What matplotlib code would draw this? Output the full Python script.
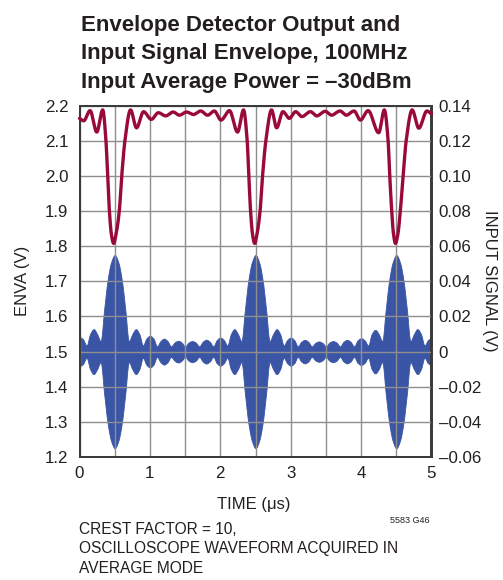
import numpy as np
import matplotlib
matplotlib.use("Agg")
import matplotlib.pyplot as plt

# ---------------- data ----------------
# Envelope detector output (left axis, V)
red_t = [0.00, 0.06, 0.15, 0.245, 0.33, 0.376, 0.40, 0.425, 0.452, 0.485, 0.52, 0.565, 0.60, 0.645,
         0.725, 0.81, 0.91, 1.02, 1.12, 1.225, 1.33, 1.42, 1.52, 1.62, 1.72, 1.82, 1.915, 2.01,
         2.13, 2.245, 2.33, 2.382, 2.405, 2.43, 2.457, 2.487, 2.522, 2.565, 2.60, 2.647,
         2.728, 2.80, 2.89, 2.98, 3.07, 3.16, 3.28, 3.37, 3.49, 3.58, 3.70, 3.79, 3.90, 3.99,
         4.10, 4.25, 4.33, 4.384, 4.407, 4.435, 4.46, 4.488, 4.523, 4.557, 4.597, 4.64,
         4.725, 4.82, 4.935, 5.00]
red_v = [2.164, 2.157, 2.186, 2.125, 2.188, 2.10, 2.00, 1.90, 1.835, 1.808, 1.835, 1.90, 2.00, 2.10,
         2.188, 2.137, 2.183, 2.161, 2.180, 2.171, 2.182, 2.173, 2.182, 2.175, 2.185, 2.173, 2.185, 2.159,
         2.186, 2.125, 2.188, 2.10, 2.00, 1.90, 1.835, 1.808, 1.835, 1.90, 2.00, 2.10,
         2.188, 2.137, 2.183, 2.164, 2.183, 2.169, 2.183, 2.171, 2.184, 2.173, 2.185, 2.173, 2.185, 2.159,
         2.186, 2.123, 2.188, 2.10, 2.00, 1.90, 1.835, 1.808, 1.835, 1.90, 2.00, 2.10,
         2.188, 2.136, 2.185, 2.176]

# Input signal envelope amplitude (right axis, V), sampled every 0.05 us
sig_t = [round(0.05 * i, 2) for i in range(101)]
sig_amp = [0.0085, 0.007, 0.0035, 0.010, 0.0128, 0.010, 0.006, 0.024, 0.041, 0.051,
           0.055, 0.051, 0.041, 0.024, 0.006, 0.010, 0.0128, 0.010, 0.0035, 0.0075,
           0.009, 0.0075, 0.003, 0.006, 0.0074, 0.006, 0.003, 0.0052, 0.0062, 0.0052,
           0.003, 0.0052, 0.006, 0.0052, 0.003, 0.0056, 0.0068, 0.0056, 0.003, 0.0066,
           0.008, 0.0066, 0.0035, 0.010, 0.0128, 0.010, 0.006, 0.024, 0.041, 0.051,
           0.055, 0.051, 0.041, 0.024, 0.006, 0.010, 0.0128, 0.010, 0.0035, 0.0066,
           0.008, 0.0066, 0.003, 0.0056, 0.0067, 0.0056, 0.003, 0.0050, 0.0058, 0.0050,
           0.003, 0.0052, 0.006, 0.0052, 0.003, 0.0056, 0.0067, 0.0056, 0.003, 0.0064,
           0.0076, 0.0064, 0.0035, 0.010, 0.0124, 0.010, 0.006, 0.024, 0.041, 0.051,
           0.055, 0.051, 0.041, 0.024, 0.006, 0.010, 0.0128, 0.010, 0.0035, 0.0066,
           0.0078]

x_ticks = [0, 1, 2, 3, 4, 5]
left_ticks = [1.2, 1.3, 1.4, 1.5, 1.6, 1.7, 1.8, 1.9, 2.0, 2.1, 2.2]
right_ticks = [-0.06, -0.04, -0.02, 0, 0.02, 0.04, 0.06, 0.08, 0.10, 0.12, 0.14]
right_labels = ["\u20130.06", "\u20130.04", "\u20130.02", "0", "0.02", "0.04", "0.06",
                "0.08", "0.10", "0.12", "0.14"]

title_lines = ["Envelope Detector Output and",
               "Input Signal Envelope, 100MHz",
               "Input Average Power = \u201330dBm"]
note_lines = ["CREST FACTOR = 10,",
              "OSCILLOSCOPE WAVEFORM ACQUIRED IN",
              "AVERAGE MODE"]


# ---------------- smooth drawing through the read points (monotone cubic) ----------------
def pchip(x, y, xn):
    x = np.asarray(x, float)
    y = np.asarray(y, float)
    h = np.diff(x)
    delta = np.diff(y) / h
    n = len(x)
    d = np.zeros(n)
    for k in range(1, n - 1):
        if delta[k - 1] * delta[k] > 0:
            w1 = 2 * h[k] + h[k - 1]
            w2 = h[k] + 2 * h[k - 1]
            d[k] = (w1 + w2) / (w1 / delta[k - 1] + w2 / delta[k])
    d[0] = delta[0]
    d[-1] = delta[-1]
    idx = np.clip(np.searchsorted(x, xn) - 1, 0, n - 2)
    hk = h[idx]
    s = (xn - x[idx]) / hk
    h00 = 2 * s**3 - 3 * s**2 + 1
    h10 = s**3 - 2 * s**2 + s
    h01 = -2 * s**3 + 3 * s**2
    h11 = s**3 - s**2
    return h00 * y[idx] + h10 * hk * d[idx] + h01 * y[idx + 1] + h11 * hk * d[idx + 1]


FONT = ["Liberation Sans", "DejaVu Sans"]
plt.rcParams["font.family"] = FONT

W, H = 503, 580
fig = plt.figure(figsize=(W / 100, H / 100), dpi=100)
L, R, T, B = 79.5, 431.5, 105.7, 457.0
ax = fig.add_axes([L / W, 1 - B / H, (R - L) / W, (B - T) / H])
ax2 = ax.twinx()

RED = "#9a0a38"
BLUE = "#3a55a5"
GRID = "#8e8e8e"
DARK = "#3a3a3a"
TXT = "#231f20"

tt = np.linspace(0, 5, 2001)
ax.plot(tt, pchip(red_t, red_v, tt), color=RED, lw=2.4, solid_capstyle="round", zorder=5, clip_on=False)

env = pchip(sig_t, sig_amp, tt)
ax2.fill_between(tt, -env, env, color=BLUE, lw=0.6, edgecolor=BLUE)

ax.set_xlim(0, 5)
ax.set_ylim(1.2, 2.2)
ax2.set_ylim(-0.06, 0.14)

ax.set_xticks(x_ticks)
ax.set_xticklabels([str(v) for v in x_ticks])
ax.set_xticks(np.arange(0, 5.01, 0.5), minor=True)
ax.set_yticks(left_ticks)
ax.set_yticklabels(["%.1f" % v for v in left_ticks])
ax2.set_yticks(right_ticks)
ax2.set_yticklabels(right_labels)

ax.grid(True, which="both", color=GRID, lw=1.0)
ax.set_axisbelow(True)
ax.tick_params(axis="both", which="both", length=0, labelsize=12.2, colors=TXT)
ax.tick_params(axis="y", pad=8)
ax.tick_params(axis="x", pad=6.5)
ax2.tick_params(axis="y", length=0, labelsize=12.2, pad=5.2, colors=TXT)
ax2.set_zorder(ax.get_zorder() - 1)
ax.patch.set_visible(False)
ax2.patch.set_visible(True)
ax2.patch.set_facecolor("white")

for a in (ax, ax2):
    for sp in a.spines.values():
        sp.set_color(DARK)
        sp.set_linewidth(1.4)

for i, line in enumerate(title_lines):
    fig.text(81 / W, 1 - (31 + 28.5 * i) / H, line, ha="left", va="baseline", fontsize=16,
             fontweight="bold", color=TXT)
fig.text(22 / W, 1 - 281 / H, "ENVA (V)", rotation=90, ha="center", va="center", fontsize=12, color=TXT)
fig.text(490 / W, 1 - 281 / H, "INPUT SIGNAL (V)", rotation=270, ha="center", va="center", fontsize=12,
         color=TXT)
fig.text(254 / W, 1 - 509 / H, "TIME (\u03bcs)", ha="center", va="baseline", fontsize=12, color=TXT)
for i, line in enumerate(note_lines):
    fig.text(79 / W, 1 - (534 + 19.5 * i) / H, line, ha="left", va="baseline", fontsize=11.2, color=TXT)
fig.text(430 / W, 1 - 523 / H, "5583 G46", ha="right", va="baseline", fontsize=6.5, color=TXT)

fig.savefig("out.png", dpi=100)
